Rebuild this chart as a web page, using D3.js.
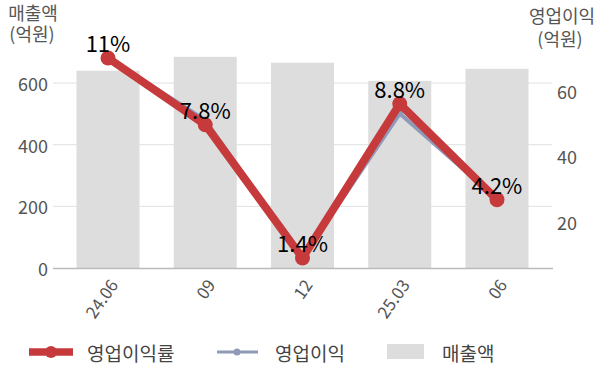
<!DOCTYPE html>
<html>
<head>
<meta charset="utf-8">
<script src="https://cdn.jsdelivr.net/npm/d3@7"></script>
<style>
  html, body { margin: 0; padding: 0; background: #fff; }
  svg { display: block; font-family: "Noto Sans CJK KR", "Noto Sans", sans-serif; }
</style>
</head>
<body>
<div id="chart"></div>
<script>
  const periods = ["24.06", "09", "12", "25.03", "06"];
  const revenue = [640, 685, 666, 607, 646];      // 매출액 (억원)
  const opProfit = [70, 51, 9, 53, 27];           // 영업이익 (억원)
  const opMargin = [11, 7.8, 1.4, 8.8, 4.2];      // 영업이익률 (%)
  const leftTicks = [0, 200, 400, 600];
  const rightTicks = [20, 40, 60];

  const W = 600, H = 383;
  const TOP = 22, BOTTOM = 268, LEFT = 53, RIGHT = 553;
  const RED = "#c73a3c";
  const BLUE = "#8e9ab8";
  const BAR = "#dddddd";
  const TEXT = "#555";

  const svg = d3.select("#chart").append("svg").attr("width", W).attr("height", H);

  const x = d3.scaleBand().domain(periods).range([52, 553]).paddingInner(0.352).paddingOuter(0.252);
  const yLeft = d3.scaleLinear().domain([0, 798]).range([BOTTOM, TOP]);
  const yRight = d3.scaleLinear().domain([5.9, 80.9]).range([BOTTOM, TOP]);
  const yMargin = d3.scaleLinear().domain([0.92, 12.73]).range([BOTTOM, TOP]);
  const cx = (d, i) => x(periods[i]) + x.bandwidth() / 2;

  // gridlines
  svg.append("g").selectAll("line").data(leftTicks.slice(1)).join("line")
    .attr("x1", LEFT).attr("x2", RIGHT - 1)
    .attr("y1", d => yLeft(d)).attr("y2", d => yLeft(d))
    .attr("stroke", "#e0e0e0").attr("stroke-width", 1);

  // bars
  svg.append("g").selectAll("rect").data(revenue).join("rect")
    .attr("x", (d, i) => x(periods[i]))
    .attr("width", x.bandwidth())
    .attr("y", d => yLeft(d))
    .attr("height", d => BOTTOM - yLeft(d))
    .attr("fill", BAR);

  // x axis line
  svg.append("line").attr("x1", LEFT).attr("x2", RIGHT)
    .attr("y1", BOTTOM + 0.5).attr("y2", BOTTOM + 0.5)
    .attr("stroke", "#bbb").attr("stroke-width", 1.5);

  // left tick labels
  svg.append("g").selectAll("text").data(leftTicks).join("text")
    .attr("x", 48).attr("y", d => yLeft(d))
    .attr("text-anchor", "end").attr("dominant-baseline", "central")
    .attr("font-size", 18).attr("fill", TEXT)
    .text(d => d);

  // right tick labels
  svg.append("g").selectAll("text").data(rightTicks).join("text")
    .attr("x", 557).attr("y", d => yRight(d))
    .attr("text-anchor", "start").attr("dominant-baseline", "central")
    .attr("font-size", 18).attr("fill", TEXT)
    .text(d => d);

  // x tick labels
  svg.append("g").selectAll("text").data(periods).join("text")
    .attr("transform", d => `translate(${x(d) + x.bandwidth() / 2 + 11},285) rotate(-55)`)
    .attr("text-anchor", "end")
    .attr("font-size", 17).attr("fill", TEXT)
    .text(d => d);

  // axis titles
  const titles = [
    { t: "매출액", x: 33, y: 12 },
    { t: "(억원)", x: 32, y: 33 },
    { t: "영업이익", x: 562, y: 15 },
    { t: "(억원)", x: 560, y: 38 }
  ];
  svg.append("g").selectAll("text").data(titles).join("text")
    .attr("x", d => d.x).attr("y", d => d.y)
    .attr("text-anchor", "middle").attr("dominant-baseline", "central")
    .attr("font-size", 18).attr("fill", TEXT)
    .text(d => d.t);

  // operating profit line (right axis)
  const profitLine = d3.line().x(cx).y(d => yRight(d));
  svg.append("path").datum(opProfit)
    .attr("d", profitLine)
    .attr("fill", "none").attr("stroke", BLUE).attr("stroke-width", 4)
    .attr("stroke-linejoin", "round");
  svg.append("g").selectAll("circle").data(opProfit).join("circle")
    .attr("cx", cx).attr("cy", d => yRight(d)).attr("r", 3.5).attr("fill", BLUE);

  // operating margin line
  const marginLine = d3.line().x(cx).y(d => yMargin(d));
  svg.append("path").datum(opMargin)
    .attr("d", marginLine)
    .attr("fill", "none").attr("stroke", RED).attr("stroke-width", 8)
    .attr("stroke-linejoin", "round");
  svg.append("g").selectAll("circle").data(opMargin).join("circle")
    .attr("cx", cx).attr("cy", d => yMargin(d)).attr("r", 7.5).attr("fill", RED);

  // value labels
  svg.append("g").selectAll("text").data(opMargin).join("text")
    .attr("x", cx).attr("y", d => yMargin(d) - 16)
    .attr("text-anchor", "middle").attr("dominant-baseline", "central")
    .attr("font-size", 22).attr("fill", "#000")
    .text(d => d + "%");

  // legend
  const lg = svg.append("g").attr("transform", "translate(0,352)");
  lg.append("line").attr("x1", 29).attr("x2", 73).attr("y1", 0).attr("y2", 0)
    .attr("stroke", RED).attr("stroke-width", 7.5);
  lg.append("circle").attr("cx", 51).attr("cy", 0).attr("r", 6).attr("fill", RED);
  lg.append("text").attr("x", 87).attr("y", 0).attr("dominant-baseline", "central")
    .attr("font-size", 19).attr("fill", "#444").text("영업이익률");

  lg.append("line").attr("x1", 217).attr("x2", 258).attr("y1", 0).attr("y2", 0)
    .attr("stroke", BLUE).attr("stroke-width", 3);
  lg.append("circle").attr("cx", 237).attr("cy", 0).attr("r", 3.5).attr("fill", BLUE);
  lg.append("text").attr("x", 275).attr("y", 0).attr("dominant-baseline", "central")
    .attr("font-size", 19).attr("fill", "#444").text("영업이익");

  lg.append("rect").attr("x", 387).attr("y", -8).attr("width", 37).attr("height", 15)
    .attr("fill", BAR);
  lg.append("text").attr("x", 442).attr("y", 0).attr("dominant-baseline", "central")
    .attr("font-size", 19).attr("fill", "#444").text("매출액");
</script>
</body>
</html>
